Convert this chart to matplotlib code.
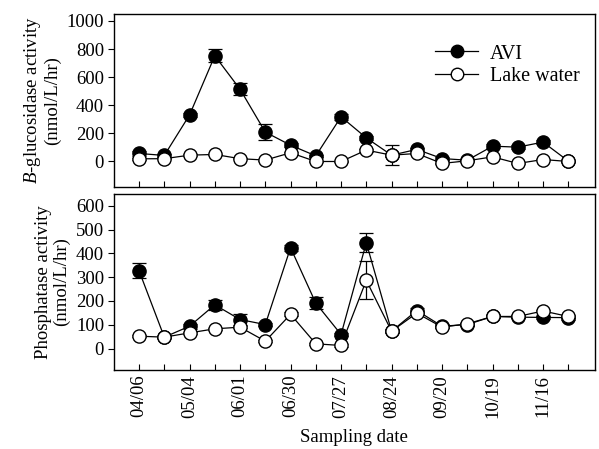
"""Enzyme activity: AVI vs lake water"""
import numpy as np
import matplotlib
matplotlib.use("Agg")
from matplotlib import pyplot as plt
from matplotlib.lines import Line2D

plt.rcParams["font.family"] = ["Liberation Serif", "DejaVu Serif"]
plt.rcParams["mathtext.fontset"] = "custom"
plt.rcParams["mathtext.it"] = "Liberation Serif:italic"

# sampling points (18), every other one labelled
tick_labels = ["04/06", "", "05/04", "", "06/01", "", "06/30", "", "07/27", "",
               "08/24", "", "09/20", "", "10/19", "", "11/16", ""]

# B-glucosidase (nmol/L/hr)
glu_avi = [57, 43, 331, 752, 514, 209, 116, 40, 318, 168, 45, 86, 21, 9, 109, 102, 138, 3]
glu_avi_err = [15, 10, 15, 45, 43, 55, 12, 8, 20, 15, 10, 10, 8, 8, 15, 15, 12, 0]
glu_lake = [19, 20, 45, 50, 20, 10, 62, 0, 0, 81, 45, 57, -14, 5, 33, -14, 14, 0]
glu_lake_err = [5, 5, 5, 5, 5, 5, 8, 5, 5, 10, 70, 5, 5, 5, 5, 5, 5, 5]

# Phosphatase (nmol/L/hr)
pho_avi = [327, 48, 94, 184, 122, 101, 424, 191, 59, 445, 73, 160, 94, 101, 135, 132, 131, 130]
pho_avi_err = [32, 5, 10, 20, 24, 8, 12, 26, 8, 40, 8, 10, 8, 8, 5, 5, 8, 8]
pho_lake = [52, 48, 66, 83, 90, 31, 144, 20, 13, 287, 73, 149, 90, 104, 135, 135, 158, 135]
pho_lake_err = [5, 5, 5, 5, 5, 5, 8, 5, 5, 80, 5, 5, 5, 5, 5, 5, 5, 5]

x = np.arange(len(tick_labels))

fig = plt.figure(figsize=(5.99, 4.49), dpi=100)
ax1 = fig.add_axes([0.19, 0.584, 0.803, 0.385])
ax2 = fig.add_axes([0.19, 0.176, 0.803, 0.392])

style = dict(color="black", lw=0.9, ms=9.5, capsize=5, elinewidth=0.9, capthick=0.9)


def draw(ax, avi, avi_err, lake, lake_err):
    ax.errorbar(x, avi, yerr=avi_err, fmt="-o", mfc="black", mec="black",
                zorder=2, **style)
    ax.errorbar(x, lake, yerr=lake_err, fmt="-o", mfc="white", mec="black",
                zorder=3, **style)
    ax.set_xlim(-1, 18.05)
    ax.set_xticks(x)
    ax.tick_params(axis="x", direction="in", length=4)
    ax.tick_params(axis="y", direction="out", length=4, labelsize=13.5, pad=3)
    for s in ax.spines.values():
        s.set_linewidth(1.0)


draw(ax1, glu_avi, glu_avi_err, glu_lake, glu_lake_err)
ax1.set_ylim(-180, 1050)
ax1.set_yticks(range(0, 1001, 200))
ax1.set_xticklabels([])
ax1.set_ylabel("$B$-glucosidase activity\n(nmol/L/hr)", fontsize=13.5,
               linespacing=1.05, labelpad=4)
handles = [
    Line2D([], [], color="black", lw=0.9, marker="o", ms=9, mfc="black", mec="black"),
    Line2D([], [], color="black", lw=0.9, marker="o", ms=9, mfc="white", mec="black"),
]
ax1.legend(handles, ["AVI", "Lake water"], loc="upper right", frameon=False,
           fontsize=14.5, handlelength=2.1, handletextpad=0.6,
           bbox_to_anchor=(0.985, 0.87), borderaxespad=0, labelspacing=0.15)

draw(ax2, pho_avi, pho_avi_err, pho_lake, pho_lake_err)
ax2.set_ylim(-90, 650)
ax2.set_yticks(range(0, 601, 100))
ax2.set_xticklabels(tick_labels, rotation=90, fontsize=13.5)
ax2.set_ylabel("Phosphatase activity\n(nmol/L/hr)", fontsize=13.5,
               linespacing=1.05, labelpad=4)
ax2.set_xlabel("Sampling date", fontsize=13.5, labelpad=8)

fig.align_ylabels([ax1, ax2])
fig.savefig("out.png", dpi=100)
